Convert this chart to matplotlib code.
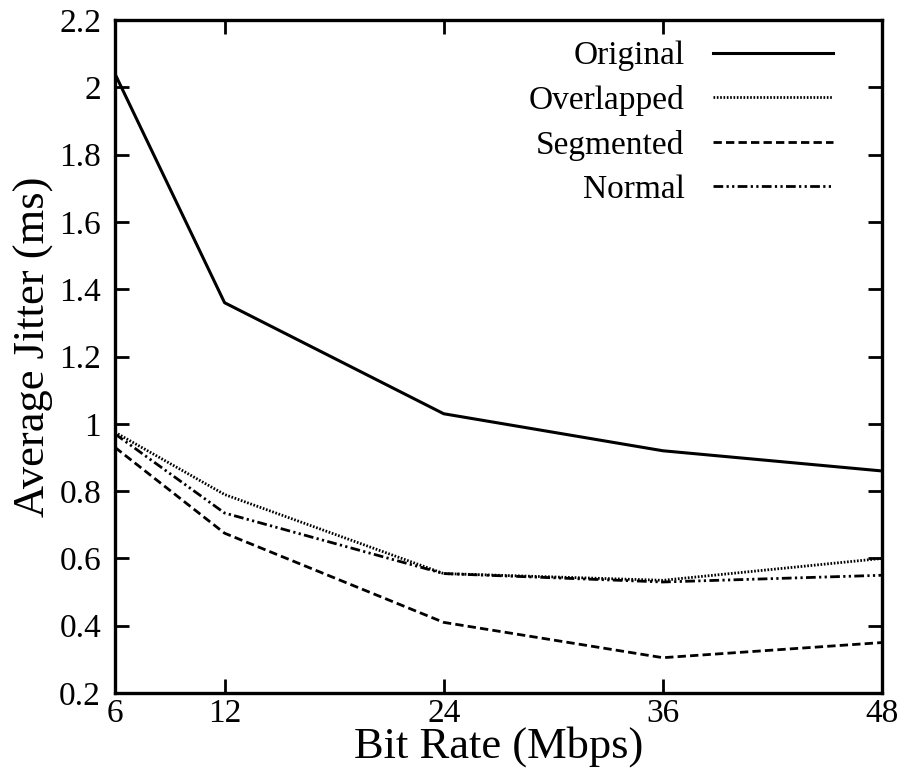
import matplotlib
matplotlib.use('Agg')
import matplotlib.pyplot as plt

plt.rcParams['font.family'] = ['Liberation Serif', 'DejaVu Serif']

bit_rate = [6, 12, 24, 36, 48]
original = [2.04, 1.36, 1.03, 0.92, 0.86]
overlapped = [0.975, 0.79, 0.555, 0.535, 0.60]
segmented = [0.93, 0.675, 0.41, 0.305, 0.35]
normal = [0.97, 0.735, 0.555, 0.53, 0.55]

yticks = [0.2, 0.4, 0.6, 0.8, 1, 1.2, 1.4, 1.6, 1.8, 2, 2.2]
ytick_labels = ['0.2', '0.4', '0.6', '0.8', '1', '1.2', '1.4', '1.6', '1.8', '2', '2.2']

fig = plt.figure(figsize=(9.07, 7.72), dpi=100)
ax = fig.add_axes([0.1268, 0.1023, 0.9724 - 0.1268, 0.974 - 0.1023])

ax.plot(bit_rate, original, color='black', lw=2.2, ls='-', label='Original')
ax.plot(bit_rate, overlapped, color='black', lw=2.0, ls=(0, (0.6, 0.6)), label='Overlapped')
ax.plot(bit_rate, segmented, color='black', lw=2.0, ls=(0, (3, 1.5)), label='Segmented')
ax.plot(bit_rate, normal, color='black', lw=2.0, ls=(0, (3.5, 1.2, 0.8, 1.2, 0.8, 1.2)), label='Normal')

ax.set_xlim(6, 48)
ax.set_ylim(0.2, 2.2)
ax.set_xticks(bit_rate)
ax.set_xticklabels([str(b) for b in bit_rate])
ax.set_yticks(yticks)
ax.set_yticklabels(ytick_labels)

ax.tick_params(direction='in', length=10, width=2, labelsize=24,
               top=True, right=True)
ax.tick_params(axis='x', pad=4)
ax.tick_params(axis='y', pad=10)
for s in ax.spines.values():
    s.set_linewidth(2.4)

ax.set_xlabel('Bit Rate (Mbps)', fontsize=32, labelpad=-2)
ax.set_ylabel('Average Jitter (ms)', fontsize=32, labelpad=4)
ax.yaxis.label.set_y(0.515)

ax.legend(loc='upper right', bbox_to_anchor=(0.936, 0.969), frameon=False,
          markerfirst=False, fontsize=24, handlelength=3.6, handletextpad=0.85,
          labelspacing=0.41, borderpad=0, borderaxespad=0)

fig.savefig('out.png', dpi=100)
